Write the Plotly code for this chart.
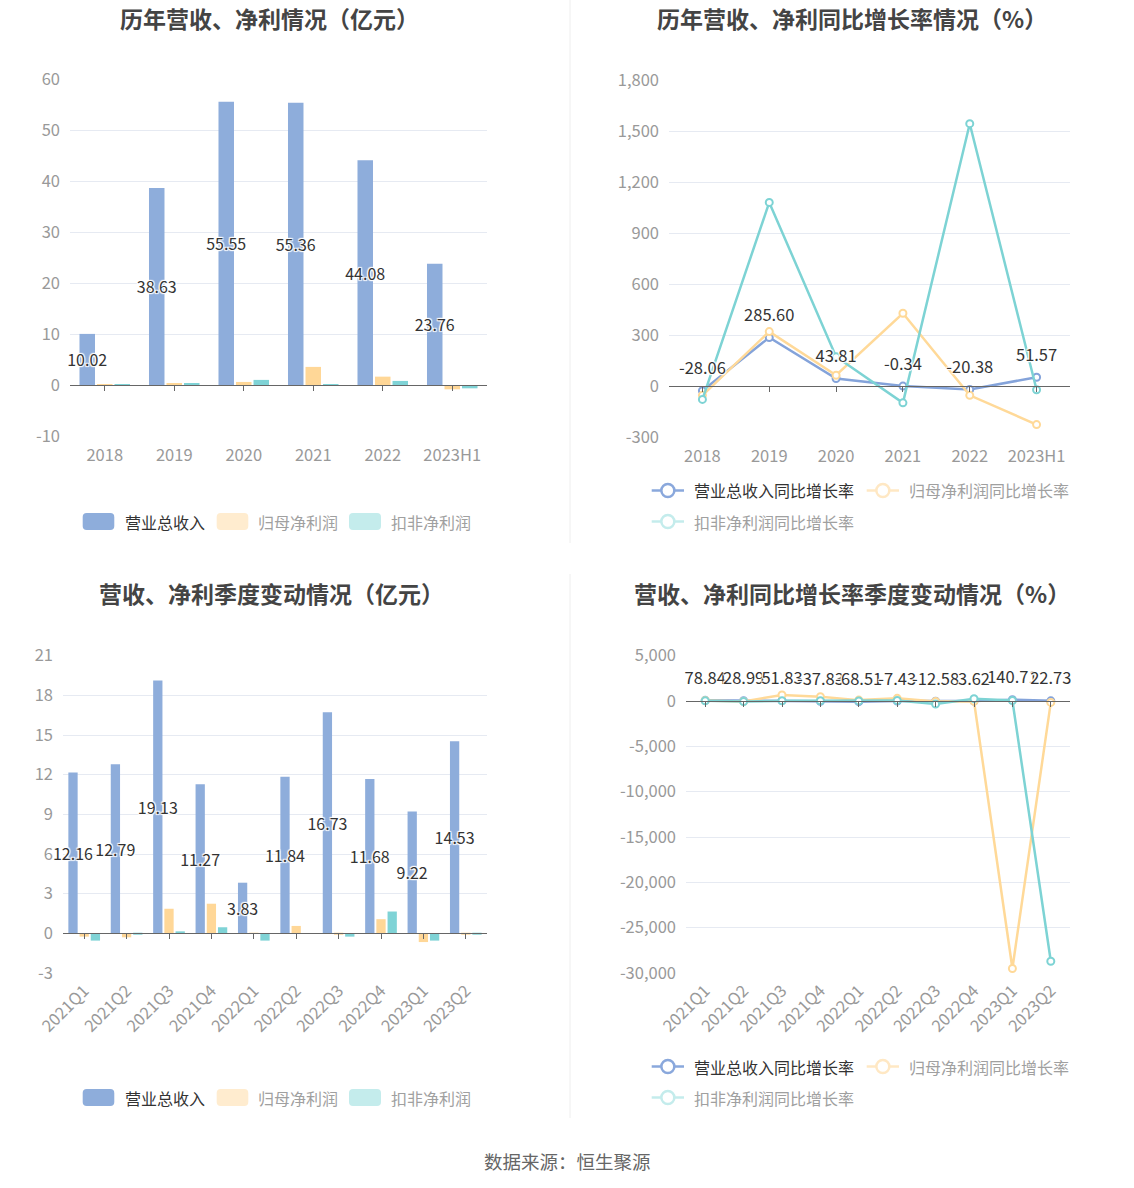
import plotly.graph_objects as go

# ---------------- data ----------------
years = ['2018', '2019', '2020', '2021', '2022', '2023H1']
revenue = [10.02, 38.63, 55.55, 55.36, 44.08, 23.76]
net_profit = [0.10, 0.26, 0.60, 3.55, 1.64, -0.85]
deduct_profit = [0.02, 0.26, 1.00, 0.03, 0.80, -0.65]

rev_growth = [-28.06, 285.60, 43.81, -0.34, -20.38, 51.57]
np_growth = [-55, 320, 63, 428, -55, -227]
dp_growth = [-79, 1080, 172, -99, 1543, -22]

quarters = ['2021Q1', '2021Q2', '2021Q3', '2021Q4', '2022Q1', '2022Q2',
            '2022Q3', '2022Q4', '2023Q1', '2023Q2']
q_revenue = [12.16, 12.79, 19.13, 11.27, 3.83, 11.84, 16.73, 11.68, 9.22, 14.53]
q_net_profit = [-0.25, -0.30, 1.86, 2.24, 0.01, 0.56, -0.05, 1.07, -0.66, -0.10]
q_deduct_profit = [-0.55, -0.10, 0.15, 0.46, -0.55, 0.00, -0.25, 1.65, -0.55, -0.10]

q_rev_growth = [78.84, 28.99, 51.83, -37.83, -68.51, -7.43, -12.58, 3.62, 140.71, 22.73]
q_np_growth = [60, -40, 660, 480, 100, 300, -40, -20, -29500, -150]
q_dp_growth = [20, -60, 20, 30, 10, 60, -330, 260, 60, -28700]

bar_names = ['营业总收入', '归母净利润', '扣非净利润']
line_names = ['营业总收入同比增长率', '归母净利润同比增长率', '扣非净利润同比增长率']
source_text = '数据来源：恒生聚源'
titles = ['历年营收、净利情况（亿元）', '历年营收、净利同比增长率情况（%）',
          '营收、净利季度变动情况（亿元）', '营收、净利同比增长率季度变动情况（%）']

# ---------------- style ----------------
W, H = 1134, 1188
FONT = 'Noto Sans CJK SC'
C_BLUE, C_YEL, C_CYAN = '#8EADDB', '#FFD797', '#7FD3D6'
L_BLUE, L_YEL, L_CYAN = '#84A3DA', '#FFD998', '#7DD3D4'
GRID = '#E6EAF2'
TICK = '#999999'
TICK_SIZE = 16.5
HALO = '-1px -1px 1px #fff, 1px -1px 1px #fff, -1px 1px 1px #fff, 1px 1px 1px #fff, 0 0 2px #fff'


def X(px):
    return px / W


def Y(py):
    return 1 - py / H


def fmt_tick(v, comma):
    s = f'{abs(v):,}' if comma else f'{abs(v)}'
    return ('-' if v < 0 else '') + s


fig = go.Figure()

panels = {
    1: dict(x=(70, 487), y=(79, 436), rng=(-10, 60), dt=10, comma=False, n=len(years)),
    2: dict(x=(669, 1070), y=(80, 437), rng=(-300, 1800), dt=300, comma=True, n=len(years)),
    3: dict(x=(63, 487), y=(655.7, 973), rng=(-3, 21), dt=3, comma=False, n=len(quarters)),
    4: dict(x=(686, 1070), y=(655.7, 973), rng=(-30000, 5000), dt=5000, comma=True, n=len(quarters)),
}


def add_bars(cats, rev, npf, dpf, k, slot, width):
    xa = 'x' if k == 1 else f'x{k}'
    ya = 'y' if k == 1 else f'y{k}'
    series = [(rev, C_BLUE, -slot), (npf, C_YEL, 0.0), (dpf, C_CYAN, slot)]
    for i, (vals, col, ctr) in enumerate(series):
        kw = {}
        if i == 0:
            kw = dict(text=[f'{v:.2f}' for v in vals], textposition='inside',
                      insidetextanchor='middle', constraintext='none', textangle=0,
                      textfont=dict(size=16, color='#333333', family=FONT, shadow=HALO))
        fig.add_trace(go.Bar(x=cats, y=vals, name=bar_names[i], marker=dict(color=col, line=dict(width=0)),
                             width=width, offset=ctr - width / 2, xaxis=xa, yaxis=ya,
                             showlegend=False, hoverinfo='skip', cliponaxis=False, **kw))


add_bars(years, revenue, net_profit, deduct_profit, 1, 0.252, 0.223)
add_bars(quarters, q_revenue, q_net_profit, q_deduct_profit, 3, 0.264, 0.219)


def add_lines(cats, rg, ng, dg, k):
    xa = f'x{k}'
    ya = f'y{k}'
    for vals, col, nm in [(rg, L_BLUE, line_names[0]), (ng, L_YEL, line_names[1]), (dg, L_CYAN, line_names[2])]:
        fig.add_trace(go.Scatter(x=cats, y=vals, mode='lines+markers', name=nm,
                                 line=dict(color=col, width=2.5),
                                 marker=dict(size=7, color='white', line=dict(color=col, width=2)),
                                 xaxis=xa, yaxis=ya, showlegend=False, hoverinfo='skip',
                                 cliponaxis=False))
    fig.add_trace(go.Scatter(x=cats, y=rg, mode='markers+text', text=[f'{v:.2f}' for v in rg],
                             textposition='top center', marker=dict(size=18, opacity=0),
                             textfont=dict(size=16.5, color='#333333', family=FONT, shadow=HALO),
                             xaxis=xa, yaxis=ya, showlegend=False, hoverinfo='skip',
                             cliponaxis=False))


add_lines(years, rev_growth, np_growth, dp_growth, 2)
add_lines(quarters, q_rev_growth, q_np_growth, q_dp_growth, 4)

layout = {}
for k, p in panels.items():
    sx = '' if k == 1 else str(k)
    dom_x = [X(p['x'][0]), X(p['x'][1])]
    dom_y = [Y(p['y'][1]), Y(p['y'][0])]
    lo, hi = p['rng']
    tv = list(range(lo, hi + 1, p['dt']))
    layout[f'yaxis{sx}'] = dict(domain=dom_y, range=[lo, hi], anchor=f'x{sx}', automargin=False,
                                tickvals=tv, ticktext=[fmt_tick(v, p['comma']) for v in tv],
                                showgrid=True, gridcolor=GRID, gridwidth=1, zeroline=False,
                                showline=False, ticks='', ticklabelstandoff=9,
                                tickfont=dict(size=TICK_SIZE, color=TICK, family=FONT))
    rot = k >= 3
    layout[f'xaxis{sx}'] = dict(domain=dom_x, anchor=f'y{sx}', type='category', automargin=False,
                                range=[-0.5, p['n'] - 0.5], showgrid=False, zeroline=False,
                                showline=False, ticks='', tickangle=-45 if rot else 0,
                                ticklabelstandoff=4 if rot else 7,
                                tickfont=dict(size=TICK_SIZE, color=TICK, family=FONT))
    pos = dom_y[0] + (0 - lo) / (hi - lo) * (dom_y[1] - dom_y[0])
    layout[f'xaxis{k + 4}'] = dict(domain=dom_x, overlaying=f'x{sx}', anchor='free', position=pos,
                                   automargin=False,
                                   range=[-0.5, p['n'] - 0.5], tickvals=list(range(p['n'])),
                                   showticklabels=False, ticks='outside', ticklen=5, tickwidth=1,
                                   tickcolor='#666666', showline=True, linecolor='#666666',
                                   linewidth=1, showgrid=False, zeroline=False)

for k in range(1, 5):
    fig.add_trace(go.Scatter(x=[], y=[], xaxis=f'x{k + 4}', yaxis='y' if k == 1 else f'y{k}',
                             showlegend=False, hoverinfo='skip'))

annotations = []
shapes = []

title_pos = [(269, 18), (852, 18), (271, 593), (852, 593)]
for t, (cx, cy) in zip(titles, title_pos):
    annotations.append(dict(text=f'<b>{t}</b>', x=X(cx), y=Y(cy), xref='paper', yref='paper',
                            xanchor='center', yanchor='middle', showarrow=False,
                            font=dict(size=23, color='#444444', family=FONT)))

annotations.append(dict(text=source_text, x=X(567), y=Y(1161), xref='paper', yref='paper',
                        xanchor='center', yanchor='middle', showarrow=False,
                        font=dict(size=18.5, color='#666666', family=FONT)))


def rrect(x0, y0, x1, y1, r):
    def P(a, b):
        return f'{X(a):.5f},{Y(b):.5f}'
    return (f'M {P(x0 + r, y0)} L {P(x1 - r, y0)} Q {P(x1, y0)} {P(x1, y0 + r)} '
            f'L {P(x1, y1 - r)} Q {P(x1, y1)} {P(x1 - r, y1)} L {P(x0 + r, y1)} '
            f'Q {P(x0, y1)} {P(x0, y1 - r)} L {P(x0, y0 + r)} Q {P(x0, y0)} {P(x0 + r, y0)} Z')


bar_leg_cols = ['#8EADDB', '#FFECCF', '#C4ECEC']
text_cols = ['#333333', '#A0A0A0', '#A0A0A0']
for dy in (0, 576):
    cy = 521.5 + dy
    for (sx0, sx1, tx), col, tc, nm in zip([(82.7, 114.3, 122.7), (216.7, 248.3, 256), (349, 381, 389)],
                                          bar_leg_cols, text_cols, bar_names):
        shapes.append(dict(type='path', path=rrect(sx0, cy - 8.5, sx1, cy + 8.5, 4), xref='paper',
                           yref='paper', fillcolor=col, line=dict(width=0), layer='above'))
        annotations.append(dict(text=nm, x=X(tx), y=Y(cy), xref='paper', yref='paper',
                                xanchor='left', yanchor='middle', showarrow=False,
                                font=dict(size=16, color=tc, family=FONT)))

line_leg_cols = ['#8AA8DC', '#FFE8C4', '#C4ECEC']
for dy in (0, 576):
    items = [(651.7, 684, 692.3, 490.5 + dy), (866.7, 899, 906.7, 490.5 + dy), (651.7, 684, 692.3, 521.5 + dy)]
    for (lx0, lx1, tx, cy), col, tc, nm in zip(items, line_leg_cols, text_cols, line_names):
        shapes.append(dict(type='line', x0=X(lx0), x1=X(lx1), y0=Y(cy), y1=Y(cy), xref='paper',
                           yref='paper', line=dict(color=col, width=2.5), layer='above'))
        cx = (lx0 + lx1) / 2
        r = 6.5
        shapes.append(dict(type='circle', x0=X(cx - r), x1=X(cx + r), y0=Y(cy + r), y1=Y(cy - r),
                           xref='paper', yref='paper', fillcolor='white',
                           line=dict(color=col, width=2.5), layer='above'))
        annotations.append(dict(text=nm, x=X(tx), y=Y(cy), xref='paper', yref='paper',
                                xanchor='left', yanchor='middle', showarrow=False,
                                font=dict(size=16, color=tc, family=FONT)))

for y0, y1 in [(0, 543), (574, 1118)]:
    shapes.append(dict(type='line', x0=X(570), x1=X(570), y0=Y(y0), y1=Y(y1), xref='paper',
                       yref='paper', line=dict(color='#EEEEEE', width=1)))

fig.update_layout(width=W, height=H, margin=dict(l=0, r=0, t=0, b=0, autoexpand=False), autosize=False,
                  paper_bgcolor='white', plot_bgcolor='white', barmode='group',
                  font=dict(family=FONT), showlegend=False,
                  annotations=annotations, shapes=shapes, **layout)

fig.write_html('out.html', config={'displayModeBar': False},
               post_script="document.body.style.margin='0';document.body.style.overflow='hidden';")
